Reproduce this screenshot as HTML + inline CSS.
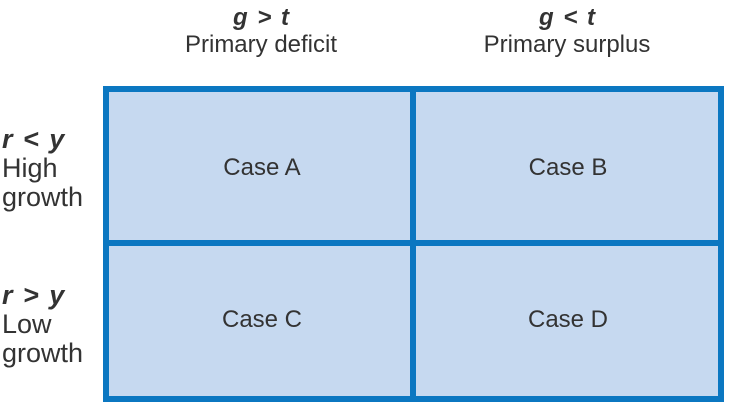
<!DOCTYPE html>
<html><head><style>
body{margin:0;width:732px;height:412px;background:#fff;font-family:"Liberation Sans",sans-serif;color:#333;position:relative;overflow:hidden}
.t{position:absolute;font-size:24px;white-space:nowrap;line-height:27px}
.c{transform:translateX(-50%);text-align:center}
b{font-style:italic;word-spacing:3px}
.box{position:absolute;background:#c6d9f0;border:6px solid #0b77c1;box-sizing:border-box}
.h{position:absolute;background:#0b77c1}
</style></head><body>
<div class="t c" style="left:261px;top:4px"><b>g &gt; t</b><br>Primary deficit</div>
<div class="t c" style="left:567px;top:4px"><b>g &lt; t</b><br>Primary surplus</div>
<div class="t" style="left:2px;top:125px;line-height:29px;font-size:27px"><b>r &lt; y</b><br>High<br>growth</div>
<div class="t" style="left:2px;top:281px;line-height:29px;font-size:27px"><b>r &gt; y</b><br>Low<br>growth</div>
<div class="box" style="left:103px;top:86px;width:621px;height:316px"></div>
<div class="h" style="left:103px;top:240px;width:621px;height:6px"></div>
<div class="h" style="left:410px;top:86px;width:6px;height:316px"></div>
<div class="t c" style="left:262px;top:154px">Case A</div>
<div class="t c" style="left:568px;top:154px">Case B</div>
<div class="t c" style="left:262px;top:306px">Case C</div>
<div class="t c" style="left:568px;top:306px">Case D</div>
</body></html>
